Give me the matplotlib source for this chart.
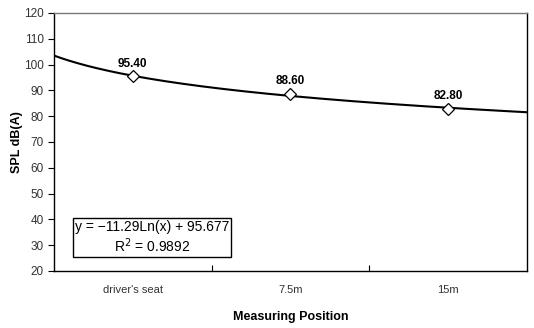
import numpy as np
import matplotlib.pyplot as plt

plt.rcParams['font.family'] = ['Liberation Sans', 'DejaVu Sans']

positions = ["driver's seat", "7.5m", "15m"]
spl = [95.40, 88.60, 82.80]
y_ticks = [20, 30, 40, 50, 60, 70, 80, 90, 100, 110, 120]

x = np.arange(1, len(positions) + 1)

# log trendline fitted from the data
a, b = np.polyfit(np.log(x), spl, 1)
xs = np.linspace(0.5, 3.5, 200)
ys = a * np.log(xs) + b

fig = plt.figure(figsize=(5.34, 3.28), dpi=100)
ax = fig.add_axes([0.1011, 0.1738, 0.8858, 0.7866])

ax.plot(xs, ys, color='black', lw=1.5)
ax.plot(x, spl, linestyle='none', marker='D', markersize=6,
        markerfacecolor='white', markeredgecolor='black', markeredgewidth=0.9)

for xi, v in zip(x, spl):
    ax.annotate(f"{v:.2f}", (xi, v), xytext=(0, 5), textcoords='offset points',
                ha='center', va='bottom', fontsize=8.5, fontweight='bold')

ax.set_xlim(0.5, 3.5)
ax.set_ylim(20, 120)
ax.set_yticks(y_ticks)
ax.tick_params(axis='y', direction='out', length=4, labelsize=8.5,
               labelcolor='#333333', width=0.8)

ax.set_xticks([1.5, 2.5])
ax.set_xticklabels([])
ax.set_xticks(x, minor=True)
ax.set_xticklabels(positions, minor=True)
ax.tick_params(axis='x', which='major', direction='in', length=4, width=0.8)
ax.tick_params(axis='x', which='minor', length=0, pad=10, labelsize=8,
               labelcolor='#333333')

for s in ax.spines.values():
    s.set_linewidth(1.0)
ax.spines['top'].set_color('#777777')

ax.set_xlabel("Measuring Position", fontsize=9, fontweight='bold')
ax.xaxis.set_label_coords(0.5, -0.155)
ax.set_ylabel("SPL dB(A)", fontsize=9, fontweight='bold', va='center')
ax.yaxis.set_label_coords(-0.078, 0.5)

r2 = 0.9892
ax.text(0.207, 0.13, f"y = \u221211.29Ln(x) + 95.677\nR$^2$ = {r2}",
        transform=ax.transAxes, ha='center', va='center', fontsize=10,
        linespacing=1.15, multialignment='center',
        bbox=dict(boxstyle='square,pad=0.15', facecolor='white',
                  edgecolor='black', linewidth=1.0))

fig.savefig('out.png', dpi=100)
